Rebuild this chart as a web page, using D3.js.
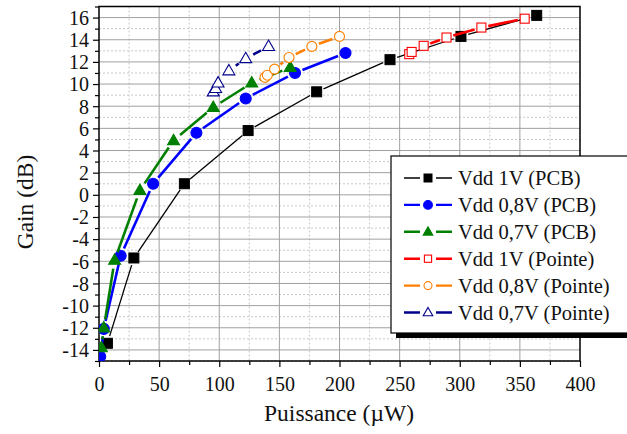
<!DOCTYPE html>
<html><head><meta charset="utf-8">
<script src="https://cdn.jsdelivr.net/npm/d3@7"></script>
<style>body{margin:0;background:#fff}svg{display:block}text{font-family:"Liberation Serif","DejaVu Serif","Noto Serif",serif}</style>
</head><body><svg id="c" width="627" height="434"></svg>
<script>
// ---- data ----
const xTicks = [0,50,100,150,200,250,300,350,400];
const yTicks = [-14,-12,-10,-8,-6,-4,-2,0,2,4,6,8,10,12,14,16];
const seriesNames = ["Vdd 1V (PCB)","Vdd 0,8V (PCB)","Vdd 0,7V (PCB)","Vdd 1V (Pointe)","Vdd 0,8V (Pointe)","Vdd 0,7V (Pointe)"];
const pcb1V_x = [7,29,71,124,181,242,301,364];
const pcb1V_y = [-13.4,-5.7,1.0,5.8,9.3,12.2,14.3,16.2];
const pcb08_x = [1,4,18,45,81,122,163,205];
const pcb08_y = [-14.6,-12.1,-5.5,1.0,5.6,8.7,11.0,12.8];
const pcb07_x = [2,4,13,34,62,95,127,159];
const pcb07_y = [-13.8,-12.0,-5.9,0.4,4.9,7.9,10.1,11.5];
const pt1V_x = [258,260,270,289,318,354];
const pt1V_y = [12.7,12.9,13.45,14.2,15.1,15.9];
const pt08_x = [138,140,146,158,177,200];
const pt08_y = [10.6,10.8,11.35,12.4,13.4,14.3];
const pt07_x = [95,97,99,108,122,141];
const pt07_y = [9.3,9.6,10.1,11.2,12.3,13.4];

const FONT = "'Liberation Serif','DejaVu Serif','Noto Serif',serif";

const series = [
  {name:seriesNames[0], xs:pcb1V_x, ys:pcb1V_y, color:"#000000", shape:"square", fill:true, lw:1.3, size:10},
  {name:seriesNames[1], xs:pcb08_x, ys:pcb08_y, color:"#0000ff", shape:"circle", fill:true, lw:2.6, size:11},
  {name:seriesNames[2], xs:pcb07_x, ys:pcb07_y, color:"#008000", shape:"triangle", fill:true, lw:2.6, size:12},
  {name:seriesNames[3], xs:pt1V_x, ys:pt1V_y, color:"#ff0000", shape:"square", fill:false, lw:2.6, size:9},
  {name:seriesNames[4], xs:pt08_x, ys:pt08_y, color:"#ff7f00", shape:"circle", fill:false, lw:2.6, size:10},
  {name:seriesNames[5], xs:pt07_x, ys:pt07_y, color:"#00008b", shape:"triangle", fill:false, lw:2.6, size:12}
];

const svg = d3.select("#c");
const L=99, R=580, T=6.5, B=361;
const x = d3.scaleLinear().domain([0,400]).range([L,R]);
const y = d3.scaleLinear().domain([-15,17]).range([B,T]);

// grid
const g = svg.append("g");
d3.range(25,400,50).forEach(v=>g.append("line").attr("x1",x(v)).attr("x2",x(v)).attr("y1",T).attr("y2",B).attr("stroke","#c8c8c8").attr("stroke-dasharray","2,2"));
d3.range(-15,17,2).forEach(v=>g.append("line").attr("x1",L).attr("x2",R).attr("y1",y(v)).attr("y2",y(v)).attr("stroke","#c8c8c8").attr("stroke-dasharray","2,2"));
xTicks.slice(1,-1).forEach(v=>g.append("line").attr("x1",x(v)).attr("x2",x(v)).attr("y1",T).attr("y2",B).attr("stroke","#a0a0a0"));
yTicks.forEach(v=>g.append("line").attr("x1",L).attr("x2",R).attr("y1",y(v)).attr("y2",y(v)).attr("stroke","#a0a0a0"));

// axes
const xAxis = d3.axisBottom(x).tickValues(xTicks).tickSize(6).tickFormat(d3.format("d"));
const xMinor = d3.axisBottom(x).tickValues(d3.range(25,400,50)).tickSize(4).tickFormat("");
const yAxis = d3.axisLeft(y).tickValues(yTicks).tickSize(6).tickFormat(d=>d<0?"-"+Math.abs(d):d);
const yMinor = d3.axisLeft(y).tickValues(d3.range(-15,18,2)).tickSize(4).tickFormat("");
function styleAx(s){s.attr("font-family",FONT);s.select(".domain").remove();s.selectAll("line").attr("stroke","#000").attr("stroke-width",1.2);s.selectAll("text").attr("font-size",20).attr("fill","#111").attr("font-family",FONT);}
svg.append("g").attr("transform",`translate(0,${B})`).call(xAxis).call(styleAx).selectAll("text").attr("dy","1.05em");
svg.append("g").attr("transform",`translate(0,${B})`).call(xMinor).call(styleAx);
svg.append("g").attr("transform",`translate(${L},0)`).call(yAxis).call(styleAx).selectAll("text").attr("dy","0.34em").attr("x",-10);
svg.append("g").attr("transform",`translate(${L},0)`).call(yMinor).call(styleAx);
svg.append("rect").attr("x",L).attr("y",T).attr("width",R-L).attr("height",B-T).attr("fill","none").attr("stroke","#000").attr("stroke-width",1.5);

// clip
svg.append("clipPath").attr("id","clip").append("rect").attr("x",L).attr("y",T).attr("width",R-L).attr("height",B-T);
const plot = svg.append("g").attr("clip-path","url(#clip)");

function marker(sel, s, cx, cy){
  const h = s.size/2;
  const fill = s.fill ? s.color : "#fff";
  if(s.shape==="square") sel.append("rect").attr("x",cx-h).attr("y",cy-h).attr("width",s.size).attr("height",s.size).attr("fill",fill).attr("stroke",s.color).attr("stroke-width",s.fill?1:1.1);
  else if(s.shape==="circle") sel.append("circle").attr("cx",cx).attr("cy",cy).attr("r",h).attr("fill",fill).attr("stroke",s.color).attr("stroke-width",1.1);
  else { const r=h*1.05; sel.append("path").attr("d",`M${cx},${cy-r}L${cx+r*0.95},${cy+r*0.65}L${cx-r*0.95},${cy+r*0.65}Z`).attr("fill",fill).attr("stroke",s.color).attr("stroke-width",1.1); }
}
function gapLine(sel, s, pts){
  const gap = s.size/2 + 2.5;
  for(let i=0;i<pts.length-1;i++){
    const [x1,y1]=pts[i],[x2,y2]=pts[i+1];
    const dx=x2-x1, dy=y2-y1, len=Math.hypot(dx,dy);
    if(len<=2*gap) continue;
    const ux=dx/len, uy=dy/len;
    sel.append("line").attr("x1",x1+ux*gap).attr("y1",y1+uy*gap).attr("x2",x2-ux*gap).attr("y2",y2-uy*gap).attr("stroke",s.color).attr("stroke-width",s.lw);
  }
}
series.forEach(s=>{
  const pts = s.xs.map((v,i)=>[x(v), y(s.ys[i])]);
  gapLine(plot, s, pts);
  pts.forEach(p=>marker(plot, s, p[0], p[1]));
});

// legend
const LX=391, LY=156, LW=250, LH=177;
svg.append("rect").attr("x",LX+5).attr("y",LY+5).attr("width",LW).attr("height",LH).attr("fill","#000");
svg.append("rect").attr("x",LX).attr("y",LY).attr("width",LW).attr("height",LH).attr("fill","#fff").attr("stroke","#000").attr("stroke-width",1.2);
series.forEach((s,i)=>{
  const cy = LY + 22 + i*26.9;
  const lg = svg.append("g");
  lg.append("line").attr("x1",404).attr("x2",452).attr("y1",cy).attr("y2",cy).attr("stroke",s.color).attr("stroke-width",s.lw>2?2.4:1.5);
  lg.append("rect").attr("x",428-8).attr("y",cy-8).attr("width",16).attr("height",16).attr("fill","#fff");
  marker(lg, Object.assign({},s,{size: s.size*0.8}), 428, cy);
  lg.append("text").attr("x",458).attr("y",cy).attr("dy","0.35em").attr("font-size",20.5).attr("fill","#111").attr("font-family",FONT).text(s.name);
});

// axis titles
svg.append("text").attr("x",339).attr("y",421).attr("text-anchor","middle").attr("font-size",23.5).attr("fill","#111").attr("font-family",FONT).text("Puissance (\u00b5W)");
svg.append("text").attr("transform","translate(33,202) rotate(-90)").attr("text-anchor","middle").attr("font-size",23.5).attr("fill","#111").attr("font-family",FONT).text("Gain (dB)");
</script></body></html>
